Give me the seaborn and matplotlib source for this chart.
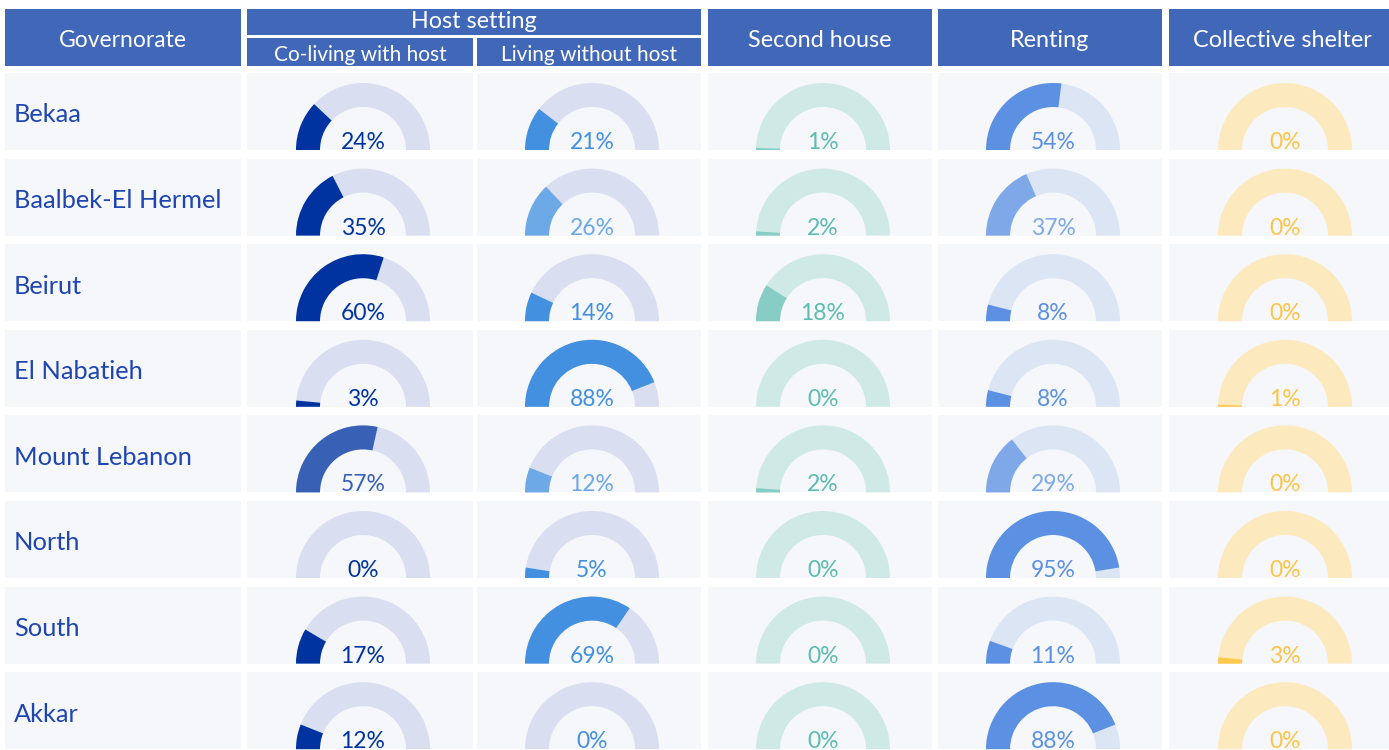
import numpy as np
import pandas as pd
import seaborn as sns
import matplotlib.pyplot as plt
from matplotlib.patches import Rectangle, Wedge
from matplotlib.colors import to_rgb

# shelter type share by governorate (%)
governorates = ["Bekaa", "Baalbek-El Hermel", "Beirut", "El Nabatieh",
                "Mount Lebanon", "North", "South", "Akkar"]
co_living = [24, 35, 60, 3, 57, 0, 17, 12]
living_without_host = [21, 26, 14, 88, 12, 5, 69, 0]
second_house = [1, 2, 18, 0, 2, 0, 0, 0]
renting = [54, 37, 8, 8, 29, 95, 11, 88]
collective_shelter = [0, 0, 0, 1, 0, 0, 3, 0]

columns = ["Co-living with host", "Living without host", "Second house",
           "Renting", "Collective shelter"]
df = pd.DataFrame({"Governorate": governorates,
                   columns[0]: co_living, columns[1]: living_without_host,
                   columns[2]: second_house, columns[3]: renting,
                   columns[4]: collective_shelter})

# colours per column: (value arc / label, track)
value_colors = ["#0033a0", "#4490e0", "#88cdc5", "#5b90e2", "#ffc94d"]
text_colors = ["#0033a0", "#4490e0", "#5cbcaf", "#5b90e2", "#ffc444"]
track_colors = ["#d9dff0", "#d9dff0", "#cfeae6", "#dce5f3", "#fde9be"]
# a few cells are drawn lighter in the original
faded = {0: [4], 1: [1, 4], 3: [1, 4]}

header_blue = "#4067b8"
name_blue = "#1f45b0"
cell_bg = "#f5f7fb"

sns.set_theme(style="white")
plt.rcParams["font.family"] = ["Lato", "DejaVu Sans"]

fig = plt.figure(figsize=(13.89, 7.5), dpi=100)
ax = fig.add_axes([0, 0, 1, 1])
ax.set_xlim(0, 1389)
ax.set_ylim(750, 0)
ax.axis("off")

col_edges = [(5, 241), (247, 473), (477, 701), (708, 932), (938, 1162), (1169, 1395)]
row_top0, row_pitch, row_h = 73, 85.6, 77
r_out, ring = 67, 24


def lighten(c, a):
    c = np.array(to_rgb(c))
    return tuple(c * a + (1 - a) * np.ones(3))


# header
def header_cell(x0, x1, y0, y1, label, size, dy=1):
    ax.add_patch(Rectangle((x0, y0), x1 - x0, y1 - y0, color=header_blue, lw=0))
    ax.text((x0 + x1) / 2, (y0 + y1) / 2 + dy, label, color="white", fontsize=size,
            ha="center", va="center")


header_cell(*col_edges[0], 9, 66, "Governorate", 16.5, 3)
header_cell(col_edges[1][0], col_edges[2][1], 9, 35, "Host setting", 16.8, 0)
header_cell(*col_edges[1], 38, 66, columns[0], 15, 3)
header_cell(*col_edges[2], 38, 66, columns[1], 15, 3)
for j in range(2, 5):
    header_cell(*col_edges[j + 1], 9, 66, columns[j], 16.8, 3)

# body
for i, row in df.iterrows():
    y0 = row_top0 + i * row_pitch
    y1 = y0 + row_h
    for x0, x1 in col_edges:
        ax.add_patch(Rectangle((x0, y0), x1 - x0, row_h, color=cell_bg, lw=0))
    ax.text(14, y0 + 42, row["Governorate"], color=name_blue, fontsize=18.3,
            ha="left", va="center")
    for j, col in enumerate(columns):
        x0, x1 = col_edges[j + 1]
        cx = (x0 + x1) / 2 + 3
        v = row[col]
        a = 0.78 if i in faded.get(j, []) else 1.0
        ax.add_patch(Wedge((cx, y1), r_out, 180, 360, width=ring,
                           color=track_colors[j], lw=0))
        if v > 0:
            ax.add_patch(Wedge((cx, y1), r_out, 180, 180 + 180 * v / 100,
                               width=ring, color=lighten(value_colors[j], a), lw=0))
        ax.text(cx, y1 - 1, f"{v}%", color=lighten(text_colors[j], a), fontsize=16.5,
                ha="center", va="baseline")

fig.savefig("out.png", dpi=100, facecolor="white")
